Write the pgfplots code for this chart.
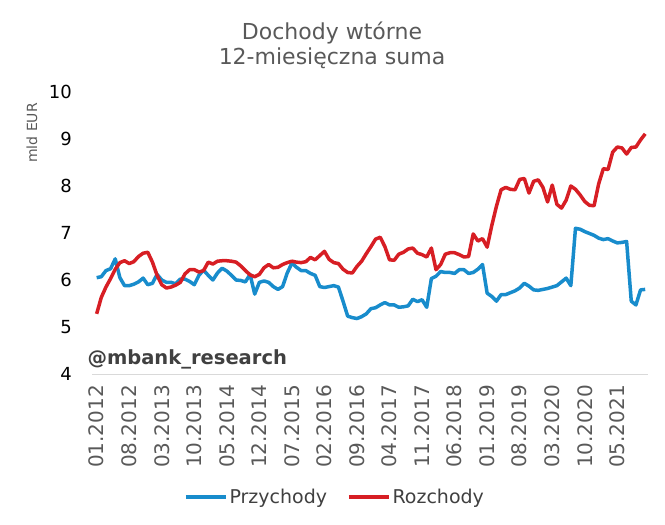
\documentclass[border=0pt]{standalone}
\usepackage{pgfplots}
\usepackage{pgfplotstable}
\pgfplotsset{compat=1.18}
\usepackage{fontspec}
\setmainfont{DejaVu Sans}
\definecolor{cblue}{RGB}{24,140,204}
\definecolor{cred}{RGB}{215,30,36}
\definecolor{tgray}{RGB}{89,89,89}
\definecolor{dgray}{RGB}{64,64,64}
\pgfplotstableread{
i inc exp
0 6.05 5.28
1 6.07 5.63
2 6.20 5.85
3 6.24 6.03
4 6.45 6.23
5 6.05 6.37
6 5.88 6.41
7 5.88 6.35
8 5.91 6.39
9 5.96 6.50
10 6.04 6.57
11 5.90 6.59
12 5.93 6.38
13 6.12 6.10
14 6.00 5.90
15 5.95 5.83
16 5.95 5.85
17 5.92 5.89
18 6.02 5.95
19 6.02 6.13
20 5.97 6.22
21 5.90 6.22
22 6.10 6.17
23 6.21 6.20
24 6.10 6.38
25 6.00 6.34
26 6.15 6.40
27 6.25 6.41
28 6.19 6.41
29 6.10 6.40
30 6.00 6.38
31 5.99 6.30
32 5.96 6.20
33 6.12 6.11
34 5.70 6.07
35 5.95 6.12
36 5.98 6.26
37 5.95 6.33
38 5.86 6.26
39 5.80 6.27
40 5.86 6.33
41 6.15 6.37
42 6.36 6.40
43 6.27 6.38
44 6.20 6.37
45 6.20 6.39
46 6.14 6.48
47 6.10 6.43
48 5.86 6.52
49 5.84 6.61
50 5.86 6.44
51 5.88 6.37
52 5.85 6.35
53 5.55 6.23
54 5.23 6.16
55 5.20 6.15
56 5.18 6.29
57 5.22 6.40
58 5.28 6.56
59 5.39 6.71
60 5.41 6.87
61 5.47 6.91
62 5.52 6.71
63 5.47 6.43
64 5.47 6.42
65 5.42 6.55
66 5.43 6.59
67 5.45 6.66
68 5.59 6.68
69 5.54 6.57
70 5.58 6.54
71 5.42 6.49
72 6.03 6.68
73 6.08 6.22
74 6.18 6.33
75 6.16 6.55
76 6.16 6.58
77 6.14 6.58
78 6.22 6.54
79 6.22 6.49
80 6.14 6.50
81 6.16 6.98
82 6.23 6.83
83 6.33 6.88
84 5.72 6.70
85 5.65 7.16
86 5.55 7.57
87 5.69 7.92
88 5.69 7.97
89 5.73 7.93
90 5.77 7.92
91 5.83 8.14
92 5.93 8.16
93 5.87 7.85
94 5.79 8.10
95 5.78 8.13
96 5.80 7.97
97 5.82 7.66
98 5.85 8.02
99 5.88 7.61
100 5.96 7.53
101 6.04 7.70
102 5.88 8.00
103 7.10 7.93
104 7.08 7.81
105 7.03 7.67
106 6.99 7.59
107 6.95 7.58
108 6.89 8.05
109 6.86 8.37
110 6.88 8.35
111 6.83 8.72
112 6.79 8.83
113 6.80 8.81
114 6.82 8.68
115 5.55 8.82
116 5.47 8.83
117 5.79 8.98
118 5.80 9.11
}\data
\begin{document}
\begin{tikzpicture}
\path[use as bounding box] (0pt,0pt) rectangle (665pt,-525pt);
\node[text=tgray, font=\fontsize{22}{26}\selectfont] at (332pt,-33pt) {Dochody wtórne};
\node[text=tgray, font=\fontsize{22}{26}\selectfont] at (332pt,-58pt) {12-miesięczna suma};
\node[text=tgray, rotate=90, font=\fontsize{14}{16}\selectfont] at (32pt,-133pt) {mld EUR};
\begin{axis}[
  at={(92pt,-374pt)}, anchor=south west,
  width=556pt, height=282pt, scale only axis,
  xmin=-1, xmax=118.6, ymin=4, ymax=10,
  axis x line*=bottom, axis y line*=left,
  x axis line style={draw=black!15, line width=1pt, -},
  y axis line style={draw=none},
  major tick length=0pt,
  ytick={4,5,6,7,8,9,10},
  yticklabel style={font=\fontsize{18}{20}\selectfont, anchor=east, inner sep=0pt, xshift=-20pt},
  /pgf/number format/assume math mode=true,
  xtick={0,7,...,112},
  xticklabels={01.2012,08.2012,03.2013,10.2013,05.2014,12.2014,07.2015,02.2016,09.2016,04.2017,11.2017,06.2018,01.2019,08.2019,03.2020,10.2020,05.2021},
  xticklabel style={font=\fontsize{20}{22}\selectfont, text=tgray, rotate=90, anchor=east, inner sep=0pt, xshift=-11pt},
  legend style={draw=none, at={(0.437,-0.436)}, anchor=center, legend columns=2,
    font=\fontsize{19}{21}\selectfont, text=dgray,
    /tikz/every even column/.append style={column sep=18pt}},
  legend image code/.code={\draw[#1, line width=3.5pt] (0pt,0pt) -- (40pt,0pt);},
  clip=false,
]
\addplot[cblue, line width=3.5pt, line join=round] table[x=i, y=inc] {\data};
\addlegendentry{Przychody}
\addplot[cred, line width=3.5pt, line join=round] table[x=i, y=exp] {\data};
\addlegendentry{Rozchody}
\end{axis}
\node[anchor=base west, text=dgray, font=\bfseries\fontsize{19.5}{22}\selectfont] at (84pt,-364pt) {@mbank\_research};
\end{tikzpicture}
\end{document}
